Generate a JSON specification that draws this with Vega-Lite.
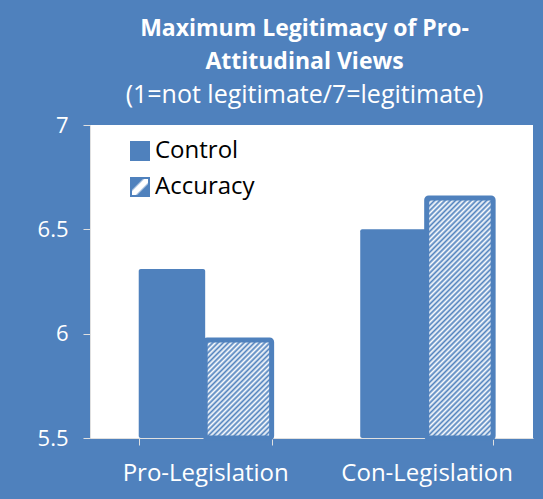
{
 "$schema": "https://vega.github.io/schema/vega-lite/v6.json",
 "width": 443,
 "height": 313,
 "autosize": {"type": "none"},
 "padding": {"left": 90, "top": 125, "right": 10, "bottom": 61},
 "background": "#4F81BD",
 "config": {"view": {"stroke": null, "fill": "#FFFFFF"}, "font": "Open Sans"},
 "title": {
  "text": ["Maximum Legitimacy of Pro-", "Attitudinal Views"],
  "subtitle": "(1=not legitimate/7=legitimate)",
  "color": "#FFFFFF", "subtitleColor": "#FFFFFF",
  "fontSize": 23, "fontWeight": "bold", "font": "Open Sans",
  "subtitleFontSize": 25, "subtitleFontWeight": "normal", "subtitleFont": "Open Sans",
  "lineHeight": 33, "subtitleLineHeight": 28, "subtitlePadding": 9,
  "anchor": "middle", "offset": 6, "dx": -7
 },
 "data": {"values": [
  {"group": "Pro-Legislation", "series": "Control", "value": 6.31},
  {"group": "Pro-Legislation", "series": "Accuracy", "value": 5.97},
  {"group": "Con-Legislation", "series": "Control", "value": 6.50},
  {"group": "Con-Legislation", "series": "Accuracy", "value": 6.65}
 ]},
 "mark": {"type": "bar", "cornerRadius": 2, "stroke": "#4F81BD"},
 "encoding": {
  "x": {"field": "group", "type": "nominal", "sort": ["Pro-Legislation", "Con-Legislation"],
   "scale": {"paddingInner": 0.4, "paddingOuter": 0.2, "align": 0.55},
   "axis": {"title": null, "labelAngle": 0, "labelColor": "#FFFFFF", "labelFontSize": 24, "labelFont": "Open Sans", "tickBand": "extent", "ticks": true, "tickSize": 7, "tickWidth": 1, "tickColor": "#E0E0E0", "domainColor": "#E0E0E0", "labelPadding": 16}},
  "xOffset": {"field": "series", "sort": ["Control", "Accuracy"], "scale": {"paddingInner": 0, "paddingOuter": 0}},
  "y": {"field": "value", "type": "quantitative", "scale": {"domain": [5.5, 7], "zero": false, "nice": false},
   "axis": {"values": [5.5, 6, 6.5, 7], "format": "~g", "title": null, "grid": false, "labelColor": "#FFFFFF", "labelFontSize": 22, "labelFont": "Open Sans", "ticks": true, "tickSize": 7, "tickWidth": 1, "tickColor": "#E0E0E0", "domainColor": "#E0E0E0", "labelPadding": 15}},
  "y2": {"datum": 5.5},
  "strokeWidth": {"condition": {"test": "datum.series === 'Accuracy'", "value": 5}, "value": 0},
  "fill": {"field": "series", "type": "nominal",
   "scale": {"domain": ["Control", "Accuracy"], "range": ["#4F81BD", {"expr": "{gradient: 'linear', x1: 0, y1: 0, x2: 1, y2: 1, stops: [{offset: 0, color: '#4F81BD'}, {offset: 0.33, color: '#4F81BD'}, {offset: 0.42, color: '#FFFFFF'}, {offset: 0.58, color: '#FFFFFF'}, {offset: 0.67, color: '#4F81BD'}, {offset: 1, color: '#4F81BD'}]}"}]},
   "legend": {"title": null, "orient": "none", "legendX": 38, "legendY": 14, "padding": 0, "symbolType": "square", "symbolSize": 324, "symbolStrokeWidth": 2, "symbolStrokeColor": "#4F81BD", "labelFontSize": 24, "labelColor": "#000000", "labelFont": "Open Sans", "labelOffset": 3, "rowPadding": 10},
   "condition": [
   {"test": "datum.series === 'Accuracy' && datum.group === 'Pro-Legislation'", "value": {"gradient": "linear", "x1": 0, "y1": 0, "x2": 2.461, "y2": 3.634, "stops": [
    {"offset": 0, "color": "#4F81BD"}, {"offset": 0.005, "color": "#FFFFFF"}, {"offset": 0.01, "color": "#4F81BD"}, {"offset": 0.015, "color": "#FFFFFF"}, {"offset": 0.02, "color": "#4F81BD"}, {"offset": 0.025, "color": "#FFFFFF"}, {"offset": 0.03, "color": "#4F81BD"}, {"offset": 0.035, "color": "#FFFFFF"}, {"offset": 0.04, "color": "#4F81BD"}, {"offset": 0.045, "color": "#FFFFFF"},
    {"offset": 0.05, "color": "#4F81BD"}, {"offset": 0.055, "color": "#FFFFFF"}, {"offset": 0.06, "color": "#4F81BD"}, {"offset": 0.065, "color": "#FFFFFF"}, {"offset": 0.07, "color": "#4F81BD"}, {"offset": 0.075, "color": "#FFFFFF"}, {"offset": 0.08, "color": "#4F81BD"}, {"offset": 0.085, "color": "#FFFFFF"}, {"offset": 0.09, "color": "#4F81BD"}, {"offset": 0.095, "color": "#FFFFFF"},
    {"offset": 0.1, "color": "#4F81BD"}, {"offset": 0.105, "color": "#FFFFFF"}, {"offset": 0.11, "color": "#4F81BD"}, {"offset": 0.115, "color": "#FFFFFF"}, {"offset": 0.12, "color": "#4F81BD"}, {"offset": 0.125, "color": "#FFFFFF"}, {"offset": 0.13, "color": "#4F81BD"}, {"offset": 0.135, "color": "#FFFFFF"}, {"offset": 0.14, "color": "#4F81BD"}, {"offset": 0.145, "color": "#FFFFFF"},
    {"offset": 0.15, "color": "#4F81BD"}, {"offset": 0.155, "color": "#FFFFFF"}, {"offset": 0.16, "color": "#4F81BD"}, {"offset": 0.165, "color": "#FFFFFF"}, {"offset": 0.17, "color": "#4F81BD"}, {"offset": 0.175, "color": "#FFFFFF"}, {"offset": 0.18, "color": "#4F81BD"}, {"offset": 0.185, "color": "#FFFFFF"}, {"offset": 0.19, "color": "#4F81BD"}, {"offset": 0.195, "color": "#FFFFFF"},
    {"offset": 0.2, "color": "#4F81BD"}, {"offset": 0.205, "color": "#FFFFFF"}, {"offset": 0.21, "color": "#4F81BD"}, {"offset": 0.215, "color": "#FFFFFF"}, {"offset": 0.22, "color": "#4F81BD"}, {"offset": 0.225, "color": "#FFFFFF"}, {"offset": 0.23, "color": "#4F81BD"}, {"offset": 0.235, "color": "#FFFFFF"}, {"offset": 0.24, "color": "#4F81BD"}, {"offset": 0.245, "color": "#FFFFFF"},
    {"offset": 0.25, "color": "#4F81BD"}, {"offset": 0.255, "color": "#FFFFFF"}, {"offset": 0.26, "color": "#4F81BD"}, {"offset": 0.265, "color": "#FFFFFF"}, {"offset": 0.27, "color": "#4F81BD"}, {"offset": 0.275, "color": "#FFFFFF"}, {"offset": 0.28, "color": "#4F81BD"}, {"offset": 0.285, "color": "#FFFFFF"}, {"offset": 0.29, "color": "#4F81BD"}, {"offset": 0.295, "color": "#FFFFFF"},
    {"offset": 0.3, "color": "#4F81BD"}, {"offset": 0.305, "color": "#FFFFFF"}, {"offset": 0.31, "color": "#4F81BD"}, {"offset": 0.315, "color": "#FFFFFF"}, {"offset": 0.32, "color": "#4F81BD"}, {"offset": 0.325, "color": "#FFFFFF"}, {"offset": 0.33, "color": "#4F81BD"}
   ]}},
   {"test": "datum.series === 'Accuracy' && datum.group === 'Con-Legislation'", "value": {"gradient": "linear", "x1": 0, "y1": 0, "x2": 0.5572, "y2": 2.0124, "stops": [
    {"offset": 0, "color": "#4F81BD"}, {"offset": 0.005, "color": "#FFFFFF"}, {"offset": 0.01, "color": "#4F81BD"}, {"offset": 0.015, "color": "#FFFFFF"}, {"offset": 0.02, "color": "#4F81BD"}, {"offset": 0.025, "color": "#FFFFFF"}, {"offset": 0.03, "color": "#4F81BD"}, {"offset": 0.035, "color": "#FFFFFF"}, {"offset": 0.04, "color": "#4F81BD"}, {"offset": 0.045, "color": "#FFFFFF"},
    {"offset": 0.05, "color": "#4F81BD"}, {"offset": 0.055, "color": "#FFFFFF"}, {"offset": 0.06, "color": "#4F81BD"}, {"offset": 0.065, "color": "#FFFFFF"}, {"offset": 0.07, "color": "#4F81BD"}, {"offset": 0.075, "color": "#FFFFFF"}, {"offset": 0.08, "color": "#4F81BD"}, {"offset": 0.085, "color": "#FFFFFF"}, {"offset": 0.09, "color": "#4F81BD"}, {"offset": 0.095, "color": "#FFFFFF"},
    {"offset": 0.1, "color": "#4F81BD"}, {"offset": 0.105, "color": "#FFFFFF"}, {"offset": 0.11, "color": "#4F81BD"}, {"offset": 0.115, "color": "#FFFFFF"}, {"offset": 0.12, "color": "#4F81BD"}, {"offset": 0.125, "color": "#FFFFFF"}, {"offset": 0.13, "color": "#4F81BD"}, {"offset": 0.135, "color": "#FFFFFF"}, {"offset": 0.14, "color": "#4F81BD"}, {"offset": 0.145, "color": "#FFFFFF"},
    {"offset": 0.15, "color": "#4F81BD"}, {"offset": 0.155, "color": "#FFFFFF"}, {"offset": 0.16, "color": "#4F81BD"}, {"offset": 0.165, "color": "#FFFFFF"}, {"offset": 0.17, "color": "#4F81BD"}, {"offset": 0.175, "color": "#FFFFFF"}, {"offset": 0.18, "color": "#4F81BD"}, {"offset": 0.185, "color": "#FFFFFF"}, {"offset": 0.19, "color": "#4F81BD"}, {"offset": 0.195, "color": "#FFFFFF"},
    {"offset": 0.2, "color": "#4F81BD"}, {"offset": 0.205, "color": "#FFFFFF"}, {"offset": 0.21, "color": "#4F81BD"}, {"offset": 0.215, "color": "#FFFFFF"}, {"offset": 0.22, "color": "#4F81BD"}, {"offset": 0.225, "color": "#FFFFFF"}, {"offset": 0.23, "color": "#4F81BD"}, {"offset": 0.235, "color": "#FFFFFF"}, {"offset": 0.24, "color": "#4F81BD"}, {"offset": 0.245, "color": "#FFFFFF"},
    {"offset": 0.25, "color": "#4F81BD"}, {"offset": 0.255, "color": "#FFFFFF"}, {"offset": 0.26, "color": "#4F81BD"}, {"offset": 0.265, "color": "#FFFFFF"}, {"offset": 0.27, "color": "#4F81BD"}, {"offset": 0.275, "color": "#FFFFFF"}, {"offset": 0.28, "color": "#4F81BD"}, {"offset": 0.285, "color": "#FFFFFF"}, {"offset": 0.29, "color": "#4F81BD"}, {"offset": 0.295, "color": "#FFFFFF"},
    {"offset": 0.3, "color": "#4F81BD"}, {"offset": 0.305, "color": "#FFFFFF"}, {"offset": 0.31, "color": "#4F81BD"}, {"offset": 0.315, "color": "#FFFFFF"}, {"offset": 0.32, "color": "#4F81BD"}, {"offset": 0.325, "color": "#FFFFFF"}, {"offset": 0.33, "color": "#4F81BD"}, {"offset": 0.335, "color": "#FFFFFF"}, {"offset": 0.34, "color": "#4F81BD"}, {"offset": 0.345, "color": "#FFFFFF"},
    {"offset": 0.35, "color": "#4F81BD"}, {"offset": 0.355, "color": "#FFFFFF"}, {"offset": 0.36, "color": "#4F81BD"}, {"offset": 0.365, "color": "#FFFFFF"}, {"offset": 0.37, "color": "#4F81BD"}, {"offset": 0.375, "color": "#FFFFFF"}, {"offset": 0.38, "color": "#4F81BD"}, {"offset": 0.385, "color": "#FFFFFF"}, {"offset": 0.39, "color": "#4F81BD"}, {"offset": 0.395, "color": "#FFFFFF"},
    {"offset": 0.4, "color": "#4F81BD"}, {"offset": 0.405, "color": "#FFFFFF"}, {"offset": 0.41, "color": "#4F81BD"}, {"offset": 0.415, "color": "#FFFFFF"}, {"offset": 0.42, "color": "#4F81BD"}, {"offset": 0.425, "color": "#FFFFFF"}, {"offset": 0.43, "color": "#4F81BD"}, {"offset": 0.435, "color": "#FFFFFF"}, {"offset": 0.44, "color": "#4F81BD"}, {"offset": 0.445, "color": "#FFFFFF"},
    {"offset": 0.45, "color": "#4F81BD"}, {"offset": 0.455, "color": "#FFFFFF"}, {"offset": 0.46, "color": "#4F81BD"}, {"offset": 0.465, "color": "#FFFFFF"}, {"offset": 0.47, "color": "#4F81BD"}, {"offset": 0.475, "color": "#FFFFFF"}, {"offset": 0.48, "color": "#4F81BD"}, {"offset": 0.485, "color": "#FFFFFF"}, {"offset": 0.49, "color": "#4F81BD"}, {"offset": 0.495, "color": "#FFFFFF"},
    {"offset": 0.5, "color": "#4F81BD"}, {"offset": 0.505, "color": "#FFFFFF"}, {"offset": 0.51, "color": "#4F81BD"}, {"offset": 0.515, "color": "#FFFFFF"}, {"offset": 0.52, "color": "#4F81BD"}, {"offset": 0.525, "color": "#FFFFFF"}, {"offset": 0.53, "color": "#4F81BD"}, {"offset": 0.535, "color": "#FFFFFF"}, {"offset": 0.54, "color": "#4F81BD"}, {"offset": 0.545, "color": "#FFFFFF"},
    {"offset": 0.55, "color": "#4F81BD"}, {"offset": 0.555, "color": "#FFFFFF"}, {"offset": 0.56, "color": "#4F81BD"}, {"offset": 0.565, "color": "#FFFFFF"}, {"offset": 0.57, "color": "#4F81BD"}, {"offset": 0.575, "color": "#FFFFFF"}, {"offset": 0.58, "color": "#4F81BD"}, {"offset": 0.585, "color": "#FFFFFF"}, {"offset": 0.59, "color": "#4F81BD"}, {"offset": 0.595, "color": "#FFFFFF"},
    {"offset": 0.6, "color": "#4F81BD"}
   ]}}
  ]}
 }
}
